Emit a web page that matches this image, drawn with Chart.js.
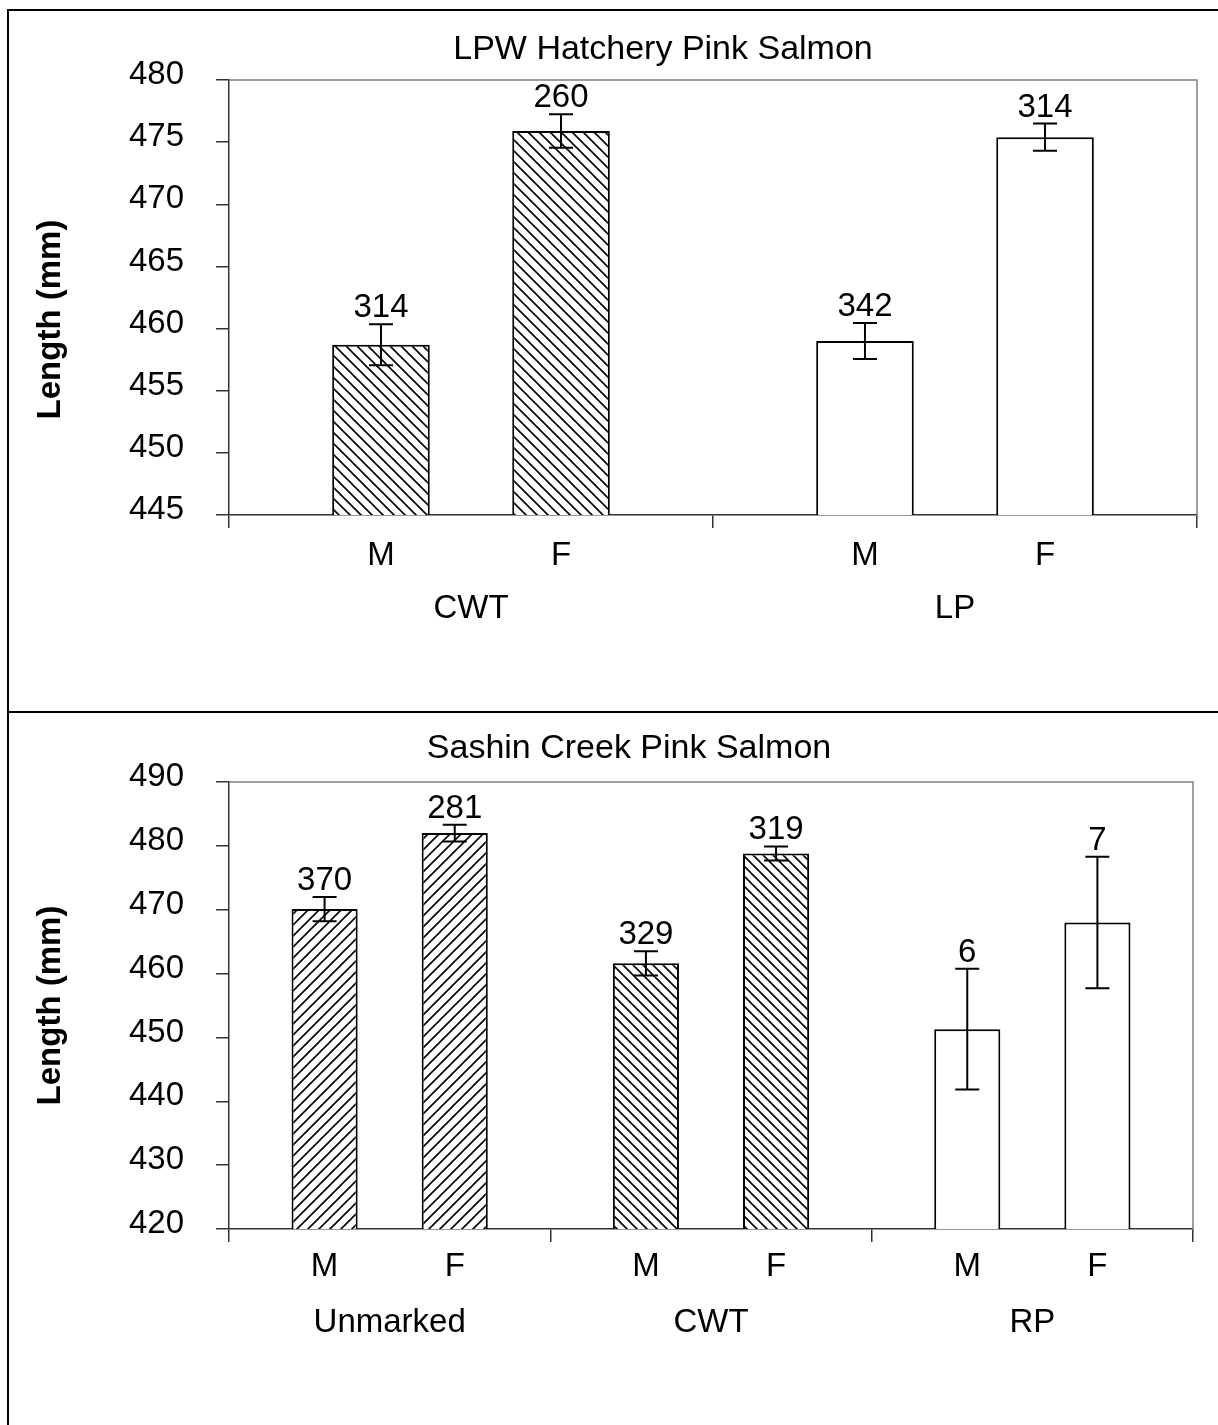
<!DOCTYPE html>
<html>
<head>
<meta charset="utf-8">
<script src="https://cdn.jsdelivr.net/npm/chart.js@4.4.1/dist/chart.umd.min.js"></script>
<style>
html, body { margin: 0; padding: 0; background: #fff; overflow: hidden; }
#frame { position: absolute; left: 7px; top: 9px; width: 1211px; height: 1416px; border-left: 2px solid #000; border-top: 2px solid #000; }
#divider { position: absolute; left: 7px; top: 711px; width: 1211px; height: 2px; background: #000; }
canvas { position: absolute; left: 0; }
</style>
</head>
<body>
<div id="frame"></div>
<div id="divider"></div>
<canvas id="topChart" width="1218" height="712" style="top:0px"></canvas>
<canvas id="bottomChart" width="1218" height="713" style="top:712px"></canvas>
<script>
// top panel - LPW hatchery
var topTitle = 'LPW Hatchery Pink Salmon';
var topGroups = ['CWT', 'LP'];
var topMale = [458.7, 459.0];
var topFemale = [475.9, 475.4];
var topMaleSE = [1.65, 1.45];
var topFemaleSE = [1.35, 1.1];
var topMaleN = [314, 342];
var topFemaleN = [260, 314];
var topTicks = [445, 450, 455, 460, 465, 470, 475, 480];

// bottom panel - Sashin Creek
var botTitle = 'Sashin Creek Pink Salmon';
var botGroups = ['Unmarked', 'CWT', 'RP'];
var botMale = [470.1, 461.6, 451.3];
var botFemale = [482.0, 478.8, 468.0];
var botMaleSE = [1.9, 1.9, 9.45];
var botFemaleSE = [1.3, 1.1, 10.3];
var botMaleN = [370, 329, 6];
var botFemaleN = [281, 319, 7];
var botTicks = [420, 430, 440, 450, 460, 470, 480, 490];

var sexLabels = ['M', 'F'];
var yTitle = 'Length (mm)';

var FONT = '"Liberation Sans", Arial, sans-serif';
Chart.defaults.font.family = FONT;
Chart.defaults.color = '#000';

function hatch(ctx, dir, size) {
  var c = document.createElement('canvas');
  c.width = size; c.height = size;
  var g = c.getContext('2d');
  g.fillStyle = '#fff';
  g.fillRect(0, 0, size, size);
  g.strokeStyle = '#000';
  g.lineWidth = 1.6;
  g.beginPath();
  if (dir === 'back') {
    g.moveTo(-1, -1); g.lineTo(size + 1, size + 1);
    g.moveTo(-1, size - 1); g.lineTo(1, size + 1);
    g.moveTo(size - 1, -1); g.lineTo(size + 1, 1);
  } else {
    g.moveTo(-1, size + 1); g.lineTo(size + 1, -1);
    g.moveTo(-1, 1); g.lineTo(1, -1);
    g.moveTo(size - 1, size + 1); g.lineTo(size + 1, size - 1);
  }
  g.stroke();
  return ctx.createPattern(c, 'repeat');
}

// titles, error bars, n labels, M/F labels, grey plot frame
var annotate = {
  id: 'annotate',
  afterDatasetsDraw: function (chart, args, opts) {
    var ctx = chart.ctx, y = chart.scales.y, area = chart.chartArea;
    ctx.save();
    ctx.strokeStyle = '#808080';
    ctx.lineWidth = 1.5;
    ctx.beginPath();
    ctx.moveTo(area.left, area.top);
    ctx.lineTo(area.right, area.top);
    ctx.lineTo(area.right, area.bottom);
    ctx.stroke();

    ctx.fillStyle = '#000';
    ctx.font = '34px ' + FONT;
    ctx.textAlign = 'center';
    ctx.textBaseline = 'middle';
    ctx.fillText(opts.title, opts.titleX, opts.titleY);

    ctx.save();
    ctx.font = 'bold 33px ' + FONT;
    ctx.translate(51, (area.top + area.bottom) / 2 + opts.yTitleShift);
    ctx.rotate(-Math.PI / 2);
    ctx.fillText(yTitle, 0, 0);
    ctx.restore();

    ctx.font = '33px ' + FONT;
    ctx.textBaseline = 'alphabetic';
    chart.data.datasets.forEach(function (ds, i) {
      chart.getDatasetMeta(i).data.forEach(function (bar, j) {
        var v = ds.data[j], e = ds.se[j];
        var hi = y.getPixelForValue(v + e), lo = y.getPixelForValue(v - e);
        ctx.strokeStyle = '#000';
        ctx.lineWidth = 2;
        ctx.beginPath();
        ctx.moveTo(bar.x, hi); ctx.lineTo(bar.x, lo);
        ctx.moveTo(bar.x - 12, hi); ctx.lineTo(bar.x + 12, hi);
        ctx.moveTo(bar.x - 12, lo); ctx.lineTo(bar.x + 12, lo);
        ctx.stroke();
        ctx.fillText(String(ds.n[j]), bar.x, hi - 7);
        ctx.fillText(ds.label, bar.x, area.bottom + opts.sexOffset);
      });
    });
    ctx.restore();
  }
};

function build(id, title, groups, male, female, maleSE, femaleSE, maleN, femaleN, ticks, fills, geom) {
  var ctx = document.getElementById(id).getContext('2d');
  return new Chart(ctx, {
    type: 'bar',
    data: {
      labels: groups,
      datasets: [
        { label: sexLabels[0], data: male, se: maleSE, n: maleN, backgroundColor: fills, borderColor: '#000', borderWidth: 2 },
        { label: sexLabels[1], data: female, se: femaleSE, n: femaleN, backgroundColor: fills, borderColor: '#000', borderWidth: 2 }
      ]
    },
    options: {
      responsive: false,
      animation: false,
      categoryPercentage: geom.cp,
      barPercentage: geom.bp,
      layout: { padding: { left: 0, right: geom.right, top: geom.top, bottom: 0 } },
      plugins: {
        legend: { display: false },
        tooltip: { enabled: false },
        title: { display: false },
        annotate: { title: title, titleX: geom.titleX, titleY: geom.titleY, yTitleShift: geom.yTitleShift, sexOffset: geom.sexOffset }
      },
      scales: {
        x: {
          offset: true,
          grid: { offset: true, drawOnChartArea: false, tickLength: 13, color: '#333', lineWidth: 1.5 },
          border: { color: '#333', width: 1.5 },
          ticks: { padding: 61, font: { size: 33 }, color: '#000' },
          afterFit: function (s) { s.height = geom.xHeight; }
        },
        y: {
          min: ticks[0],
          max: ticks[ticks.length - 1],
          ticks: { stepSize: ticks[1] - ticks[0], padding: 32, labelOffset: -5, font: { size: 33 }, color: '#000' },
          grid: { drawOnChartArea: false, tickLength: 13, color: '#333', lineWidth: 1.5 },
          border: { color: '#333', width: 1.5 },
          title: { display: false },
          afterFit: function (s) { s.width = 229; }
        }
      }
    },
    plugins: [annotate]
  });
}

var topCtx = document.getElementById('topChart').getContext('2d');
var botCtx = document.getElementById('bottomChart').getContext('2d');

build('topChart', topTitle, topGroups, topMale, topFemale, topMaleSE, topFemaleSE, topMaleN, topFemaleN, topTicks,
  [hatch(topCtx, 'back', 11), '#fff'],
  { cp: 0.744, bp: 0.542, right: 21, top: 80, titleX: 663, titleY: 50, yTitleShift: 22, xHeight: 197, sexOffset: 50 });

build('bottomChart', botTitle, botGroups, botMale, botFemale, botMaleSE, botFemaleSE, botMaleN, botFemaleN, botTicks,
  [hatch(botCtx, 'fwd', 11), hatch(botCtx, 'back', 10), '#fff'],
  { cp: 0.81, bp: 0.508, right: 25, top: 70, titleX: 629, titleY: 37, yTitleShift: 0, xHeight: 196, sexOffset: 47 });
</script>
</body>
</html>
